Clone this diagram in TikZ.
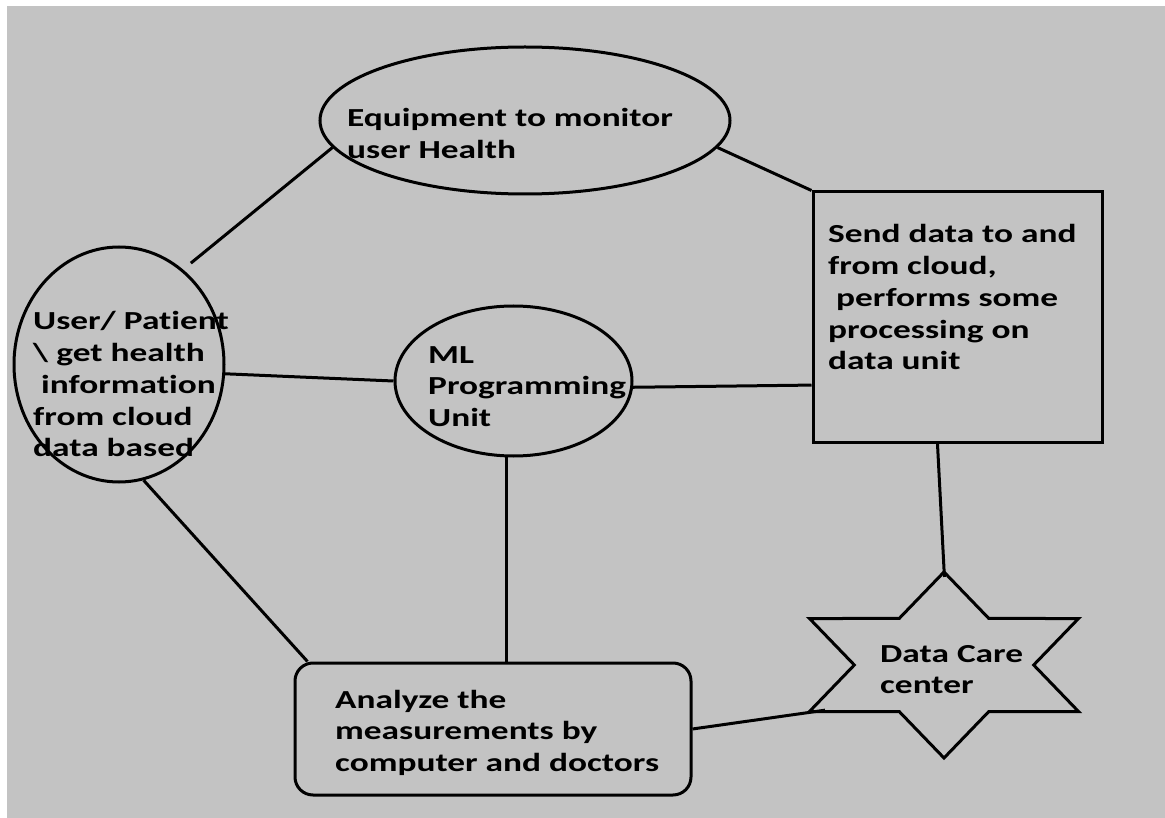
\documentclass[tikz,border=0pt]{standalone}
\usepackage{fontspec}
\setmainfont[Ligatures=NoCommon]{Carlito}
\usepackage{graphicx}
\usetikzlibrary{shapes.geometric}

\definecolor{panel}{RGB}{195,195,195}
\newcommand{\wide}[1]{\scalebox{1.36}[1]{\begin{tabular}[t]{@{}l@{}}#1\end{tabular}}}

\begin{document}
\begin{tikzpicture}[x=1pt,y=1pt,
  outline/.style={draw, line width=3pt, inner sep=0pt},
  link/.style={line width=3pt},
  caption/.style={anchor=base west, inner sep=0pt, font=\fontsize{26}{31.7}\selectfont\bfseries}]

% Page with the grey panel
\useasboundingbox (0,0) rectangle (1165,-818);
\fill [white] (0,0) rectangle (1165,-818);
\fill [panel] (7,-6) rectangle (1165,-818);

% Centres of the shapes
\coordinate (E) at (525,-120.5);
\coordinate (U) at (119,-364.5);
\coordinate (M) at (513.5,-381);
\coordinate (S) at (957.5,-317);
\coordinate (D) at (944,-665);
\coordinate (A) at (493,-729);

% The shapes themselves
\node [outline, ellipse, minimum width=410pt, minimum height=147pt] (equip) at (E) {};
\node [outline, ellipse, minimum width=210pt, minimum height=235pt] (user) at (U) {};
\node [outline, ellipse, minimum width=237pt, minimum height=150pt] (ml) at (M) {};
\node [outline, rectangle, minimum width=289pt, minimum height=250pt] (send) at (S) {};
\node [outline, star, star points=6, star point ratio=1.732, minimum size=186pt, xscale=1.67, transform shape] (dc) at (D) {};
\node [outline, rectangle, rounded corners=18pt, minimum width=396pt, minimum height=132pt] (an) at (A) {};

% Texts, set left aligned from the baseline of their first line
\node [caption] (equipText) at (347,-127) {\wide{Equipment to monitor\\user Health}};
\node [caption] (userText) at (33,-330) {\wide{User/ Patient\\\textbackslash{} get health\\\ information\\from cloud\\data based}};
\node [caption] (mlText) at (428,-363) {\wide{ML\\Programming\\Unit}};
\node [caption] (sendText) at (828,-243) {\wide{Send data to and\\from cloud,\\\ performs some\\processing on\\data unit}};
\node [caption] (dcText) at (880,-662) {\wide{Data Care\\center}};
\node [caption] (anText) at (335,-708) {\wide{Analyze the\\measurements by\\computer and doctors}};

% Lines between the shapes
\draw [link, shorten <=10pt] (user.56) -- (equip.188);
\draw [link] (equip.352) -- (send.north west);
\draw [link] (user.-5) -- (ml.180);
\draw [link] (ml.-3) -- (send.205);
\draw [link, shorten >=-8pt] (send.261) -- (dc.north);
\draw [link] (ml.265) -- (ml.265 |- an.north);
\draw [link] (user.282) -- (an.160);
\draw [link, shorten >=-20pt] (an.east) -- (dc.outer point 3);
\end{tikzpicture}
\end{document}
